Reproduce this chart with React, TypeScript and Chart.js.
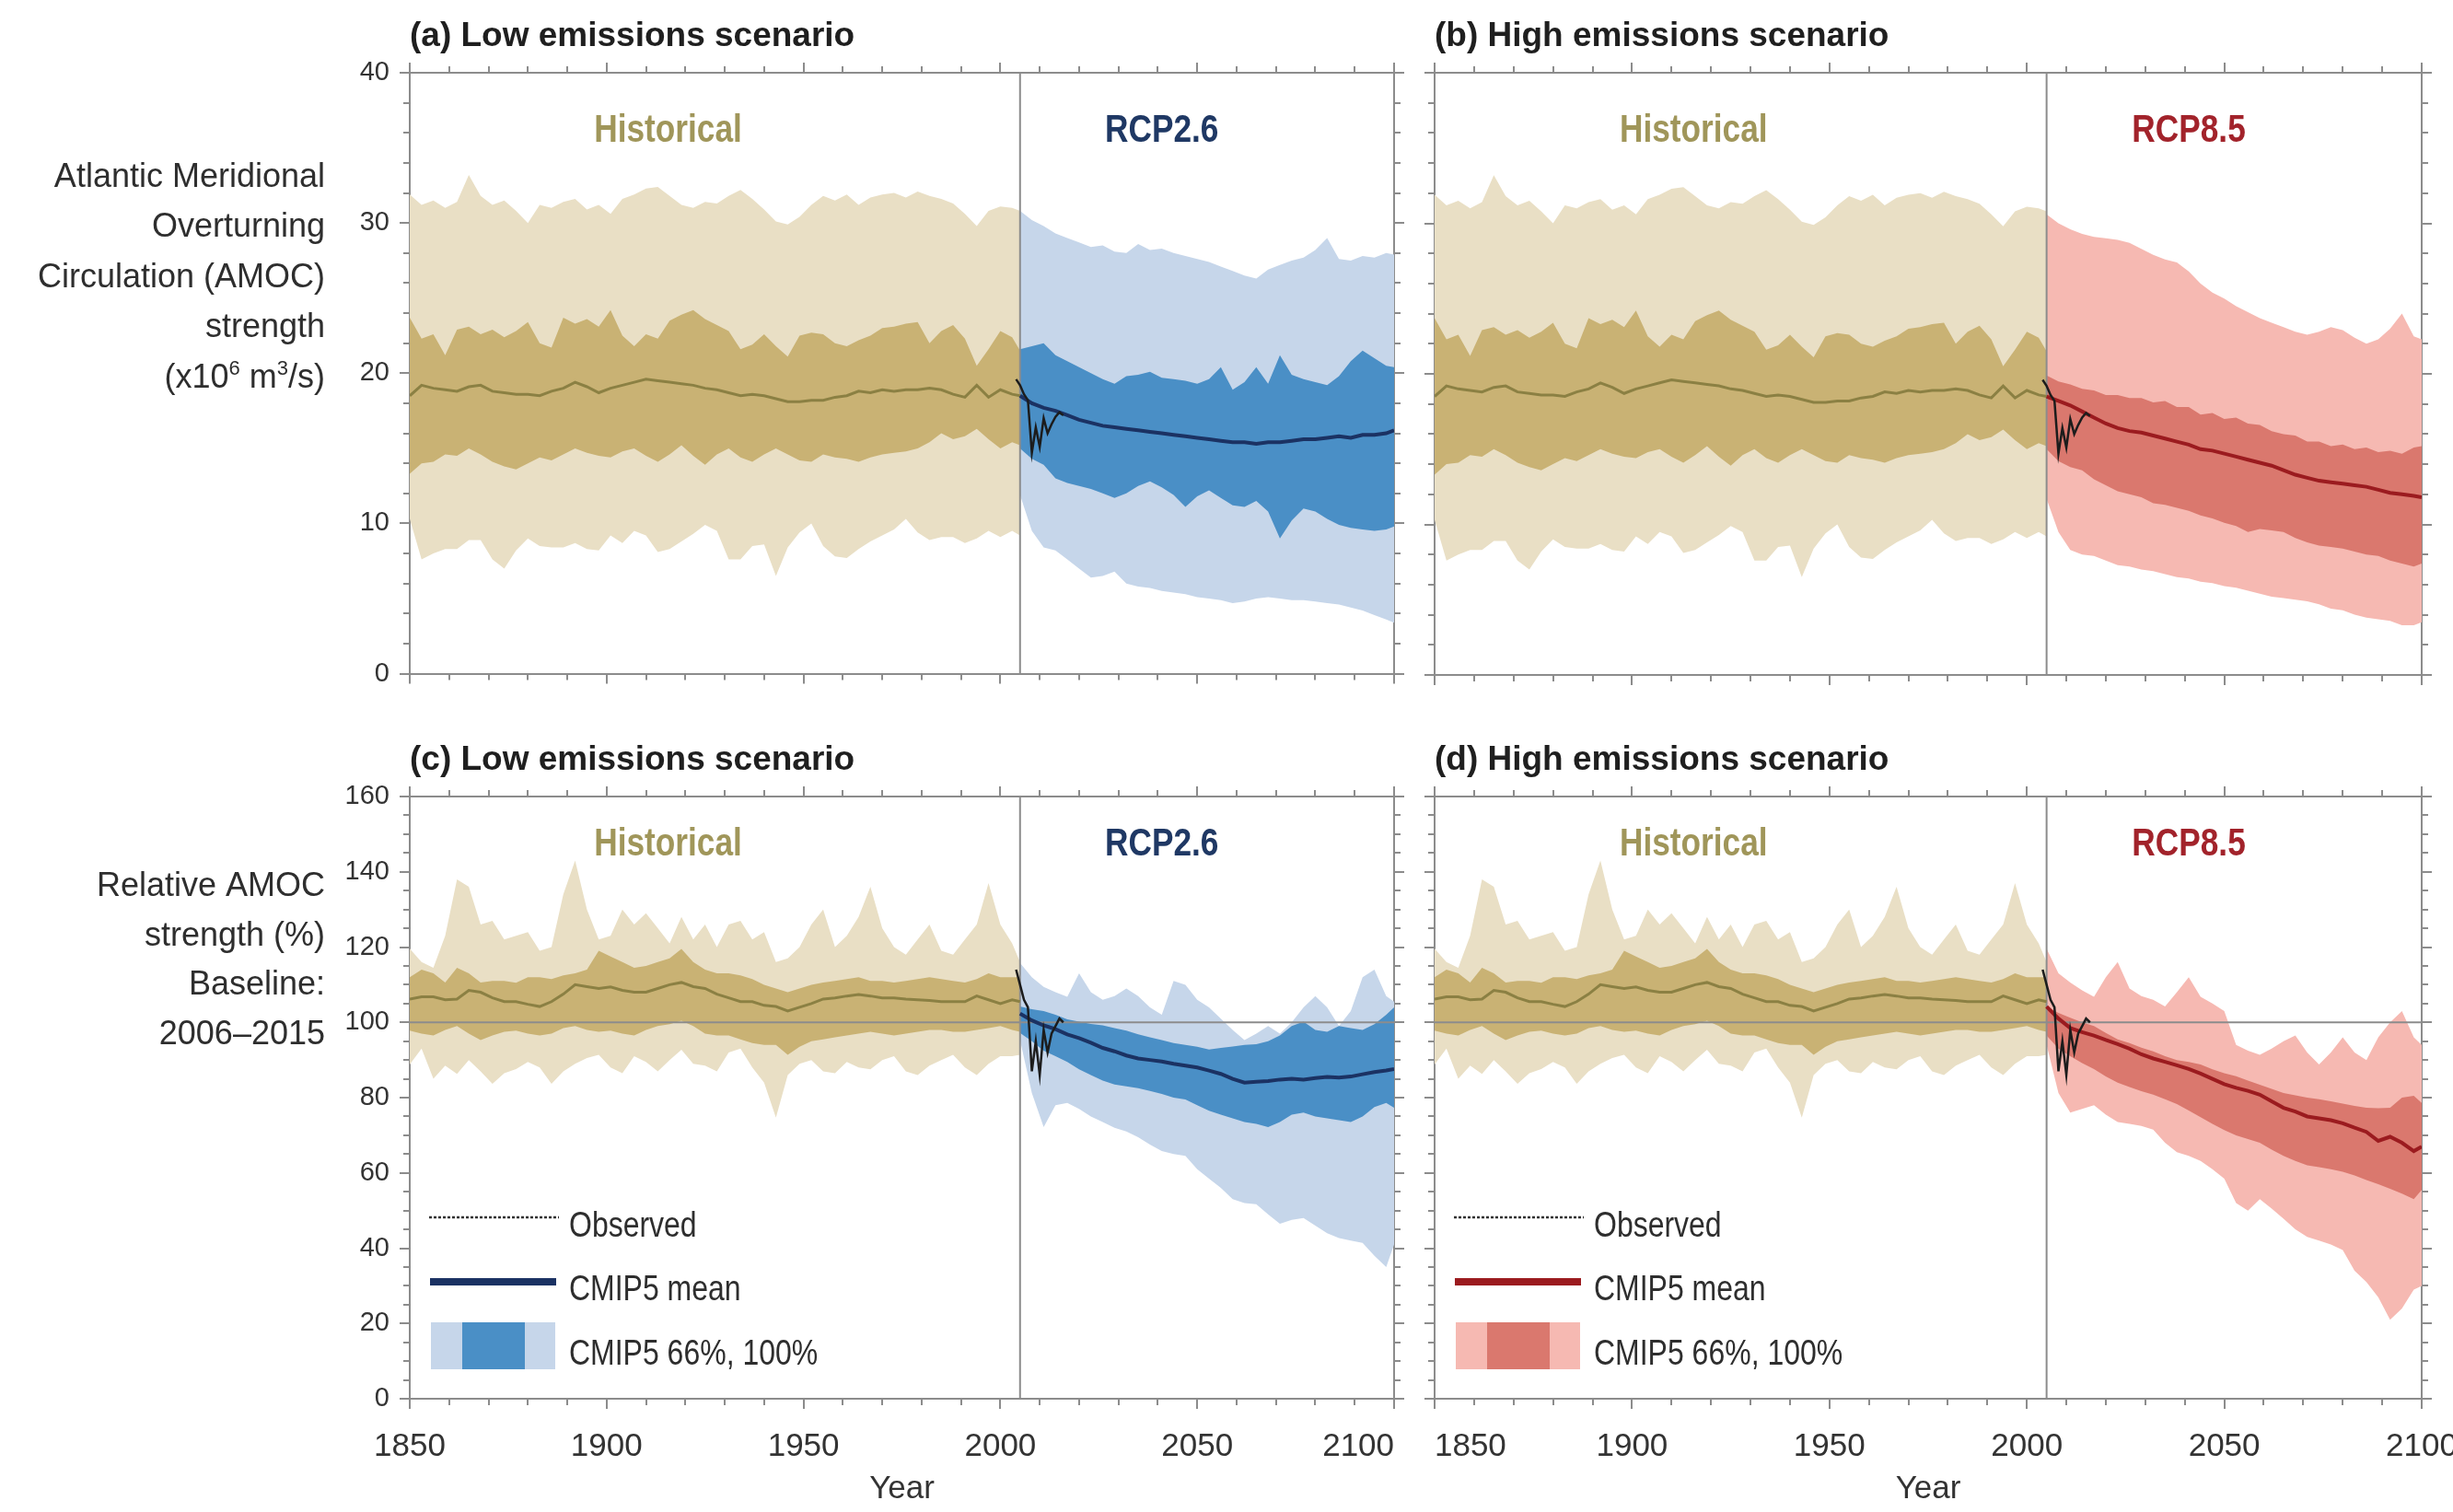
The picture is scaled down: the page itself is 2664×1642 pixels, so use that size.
import React, { useEffect, useRef } from 'react';
import { Chart, registerables } from 'chart.js';

Chart.register(...registerables);

// ---------------- DATA ----------------
const HIST_YEARS = [1850,1853,1856,1859,1862,1865,1868,1871,1874,1877,1880,1883,1886,1889,1892,1895,1898,1901,1904,1907,1910,1913,1916,1919,1922,1925,1928,1931,1934,1937,1940,1943,1946,1949,1952,1955,1958,1961,1964,1967,1970,1973,1976,1979,1982,1985,1988,1991,1994,1997,2000,2003,2005];
const SCEN_YEARS = [2005,2008,2011,2014,2017,2020,2023,2026,2029,2032,2035,2038,2041,2044,2047,2050,2053,2056,2059,2062,2065,2068,2071,2074,2077,2080,2083,2086,2089,2092,2095,2098,2100];
const OBS_YEARS = [2004,2005,2006,2007,2008,2009,2010,2011,2012,2013,2014,2015,2016];

// Absolute AMOC strength (Sv)
const HIST_ABS_MAX = [31.9,31.2,31.5,31.0,31.4,33.2,31.8,31.2,31.5,30.8,30.0,31.2,31.0,31.4,31.6,30.9,31.2,30.6,31.6,31.9,32.3,32.4,31.8,31.2,31.0,31.4,31.3,31.8,32.2,31.6,30.9,30.1,29.9,30.4,31.2,31.8,31.5,31.9,31.2,31.7,31.9,32.0,31.7,32.1,31.8,31.6,31.3,30.6,29.8,30.8,31.1,31.0,30.8];
const HIST_ABS_P83 = [23.7,22.3,22.6,21.2,22.9,23.1,22.6,22.9,22.4,22.8,23.4,22.0,21.7,23.7,23.3,23.6,23.1,24.2,22.5,21.8,22.6,22.3,23.5,23.9,24.2,23.6,23.2,22.8,21.6,21.9,22.6,21.8,21.1,22.5,22.7,22.6,22.0,21.8,22.2,22.5,23.0,23.1,23.3,23.4,22.0,22.8,23.2,22.3,20.5,21.6,22.8,22.4,21.5];
const HIST_ABS_MEAN = [18.5,19.2,19.0,18.9,18.8,19.1,19.2,18.8,18.7,18.6,18.6,18.5,18.8,19.0,19.4,19.1,18.7,19.0,19.2,19.4,19.6,19.5,19.4,19.3,19.2,19.0,18.9,18.7,18.5,18.6,18.5,18.3,18.1,18.1,18.2,18.2,18.4,18.5,18.8,18.7,18.9,18.8,18.9,18.9,19.0,18.9,18.6,18.4,19.2,18.4,18.9,18.6,18.5];
const HIST_ABS_P17 = [13.3,14.0,14.1,14.6,14.5,15.0,14.6,14.1,13.8,13.6,14.0,14.4,14.2,14.6,15.0,14.7,14.5,14.4,14.8,15.0,14.5,14.1,14.6,15.2,14.5,13.9,14.6,15.0,14.4,14.1,14.6,15.0,14.6,14.2,14.1,14.6,14.4,14.3,14.1,14.4,14.6,14.7,14.8,15.0,15.4,16.0,15.6,15.8,16.3,15.6,15.0,15.4,15.2];
const HIST_ABS_MIN = [10.3,7.6,8.0,8.3,8.3,8.9,8.9,7.6,7.0,8.2,9.0,8.5,8.4,8.4,8.7,8.3,8.2,9.2,8.7,9.5,9.2,8.1,8.3,8.8,9.3,9.9,9.5,7.6,7.6,8.5,8.6,6.5,8.4,9.4,10.0,8.5,7.8,7.7,8.3,8.8,9.2,9.6,10.3,9.4,8.9,9.1,9.1,8.7,9.0,9.5,9.1,9.5,9.2];

const RCP26_ABS_MAX = [30.8,30.2,29.8,29.3,29.0,28.7,28.4,28.5,28.1,28.0,28.6,28.2,28.3,28.0,27.8,27.6,27.4,27.1,26.8,26.5,26.3,26.9,27.2,27.5,27.7,28.2,29.0,27.6,27.5,27.8,27.7,28.0,27.9];
const RCP26_ABS_P83 = [21.6,21.8,22.0,21.2,20.8,20.4,20.0,19.6,19.3,19.8,19.9,20.1,19.7,19.6,19.5,19.3,19.6,20.4,18.9,19.4,20.4,19.3,21.2,19.9,19.6,19.4,19.2,19.8,20.8,21.5,21.0,20.5,20.4];
const RCP26_ABS_MEAN = [18.5,18.0,17.7,17.5,17.2,16.9,16.7,16.5,16.4,16.3,16.2,16.1,16.0,15.9,15.8,15.7,15.6,15.5,15.4,15.4,15.3,15.4,15.4,15.5,15.6,15.6,15.7,15.8,15.7,15.9,15.9,16.0,16.2];
const RCP26_ABS_P17 = [15.0,14.3,13.9,13.0,12.7,12.5,12.3,12.0,11.7,12.0,12.5,12.8,12.4,11.9,11.1,11.8,12.2,11.7,11.2,11.1,11.5,10.8,9.0,10.2,11.0,10.8,10.3,9.9,9.7,9.6,9.5,9.6,9.8];
const RCP26_ABS_MIN = [11.9,9.5,8.4,8.2,7.6,7.0,6.4,6.5,6.8,6.0,5.8,5.7,5.5,5.4,5.3,5.1,5.0,4.9,4.7,4.8,5.0,5.1,5.0,4.9,4.9,4.8,4.7,4.6,4.4,4.2,3.9,3.6,3.4];

const RCP85_ABS_MAX = [30.6,30.0,29.6,29.3,29.1,29.0,28.9,28.7,28.3,27.9,27.6,27.4,26.8,26.0,25.4,25.0,24.5,24.1,23.7,23.4,23.1,22.8,22.6,22.8,23.1,22.9,22.4,22.0,22.3,23.0,24.0,22.5,22.3];
const RCP85_ABS_P83 = [19.9,19.5,19.3,19.0,18.9,18.6,18.6,18.4,18.4,18.1,18.2,17.8,17.8,17.3,17.4,17.0,17.1,16.7,16.6,16.2,16.0,15.9,15.5,15.5,15.2,15.3,15.0,15.1,14.8,14.9,14.7,15.1,15.2];
const RCP85_ABS_MEAN = [18.5,18.2,17.9,17.5,17.1,16.7,16.4,16.2,16.1,15.9,15.7,15.5,15.3,15.0,14.9,14.7,14.5,14.3,14.1,13.9,13.6,13.3,13.1,12.9,12.8,12.7,12.6,12.5,12.3,12.1,12.0,11.9,11.8];
const RCP85_ABS_P17 = [15.0,14.2,13.8,13.6,13.0,12.6,12.2,12.0,11.8,11.4,11.3,11.1,10.9,10.6,10.4,10.1,9.9,9.5,9.7,9.6,9.5,9.1,8.8,8.6,8.5,8.4,8.2,8.0,7.9,7.6,7.4,7.2,7.4];
const RCP85_ABS_MIN = [11.7,9.5,8.3,8.0,7.9,7.6,7.3,7.2,7.0,6.9,6.7,6.5,6.4,6.2,6.1,5.9,5.8,5.6,5.4,5.2,5.1,5.0,4.9,4.7,4.4,4.3,4.0,3.8,3.7,3.6,3.3,3.3,3.5];

// Relative AMOC strength (%)
const HIST_REL_MAX = [119.6,116,114.5,123,138,136,126,127,122,123,124,119,120,134,143,130,122,123,130,126,129,125,121,128,122,126,120,126,127,122,124,116,117,120,126,130,120,123,128,136,125,120,118,122,126,119,118,122,126,137,126,121,116];
const HIST_REL_P83 = [112,114,113,110.6,114.5,113,110.6,111,111,110.5,112,112,111.5,112.5,113,114,119,117.5,116,114.5,115,116,117,119.5,116,114,113,113,112.5,111.5,110,109,108,109,110,110.6,111,111.5,112,111,111,110.6,111,111.5,112,111.5,111,110.6,111.5,113,112,112,112];
const HIST_REL_MEAN = [106.2,106.8,106.8,106.0,106.2,108.5,108.0,106.5,105.5,105.5,104.8,104.2,105.5,107.5,110.0,109.5,109.0,109.4,108.5,108.0,108.0,109.0,110.0,110.6,109.5,109.0,107.5,106.5,105.5,105.5,104.5,104.2,103.0,104.0,105.0,106.2,106.5,107.0,107.4,107.0,106.5,106.5,106.2,106.0,105.8,105.5,105.5,105.5,107.0,106.0,105.0,106.0,105.5];
const HIST_REL_P17 = [97.8,97,96.5,98,99,97,95.3,96.5,97.5,97.8,97,96.5,97,98.5,99,98,97.5,97.8,97,96.5,98,99,99.5,100.4,99,97,96.5,96.5,95.5,94.5,94,94,91.4,93.5,95,95.5,96,96.5,97,97.5,97,96.5,97,97.5,98,98,97.5,97.5,98,98.5,99,98,97.5];
const HIST_REL_MIN = [88.8,93,85,88.5,86.3,90,87,83.7,86.5,87.6,89.5,88,83.7,87,89,90.5,91.4,88,86.5,91,89.5,87,90,92.7,89,88.5,87,92,93,88,84,74.7,86,89,90,87,86.5,89.5,88,87.5,90,91,87,86,88.5,90,91.4,88,86,89,91,91,91.4];

const RCP26_REL_MAX = [115.8,112,109.4,108,106.8,113,108,106,107,109,107,104,102,111,110,106,104,101,98,95.3,97,99,97,100,104,107,104,99,103,112,114,107,105.5];
const RCP26_REL_P83 = [104.2,103.5,103,102,100.8,100.2,99.6,99.2,98.5,97.8,96.8,96,95.3,94.5,94,93.5,92.8,93.2,93.6,94,94.2,95,96.5,99,100.2,98,97.5,99,98.5,98,99.5,102,104];
const RCP26_REL_MEAN = [102.3,100.5,99.2,98.2,96.8,95.8,94.6,93.2,92.3,91.2,90.4,90.0,89.6,89.0,88.5,88.0,87.2,86.3,85.0,84.0,84.2,84.4,84.8,85.0,84.8,85.2,85.5,85.3,85.6,86.2,86.8,87.2,87.6];
const RCP26_REL_P17 = [97.2,95,92.5,91,89.5,87.5,86,84.5,83.5,83,82.5,81.8,81,80,79.5,78,76.5,75.5,74.5,73.5,73,72.2,73.5,75.5,76,75,74.5,74,73.5,75,77.5,78.6,77.3];
const RCP26_REL_MIN = [95.3,81.2,72.2,78,78.6,77,75,73.5,72,71,69.5,67.5,65.8,65,64.5,61,58.5,56,53,52,51.7,49,46.5,47.5,48,46,44,42.7,42,41.4,38,35,41];

const RCP85_REL_MAX = [119.6,113,110.6,108.5,106.8,112,116,109,107,106,104.2,108,112,106.8,105,103,94,92.5,91.4,93,95,96.5,92,88.8,92,96,92,90,96,100,103,96,94];
const RCP85_REL_P83 = [104.2,102.5,101.2,100,99,97.2,95.5,94.5,93.3,92.3,91,90,89.5,88.8,87.5,86.5,85.7,84.5,83.4,82.3,81.2,80.6,80,79.6,79,78.4,77.8,77.3,77.2,77.3,80,80.5,78.6];
const RCP85_REL_MEAN = [104.2,101,98.5,97.4,96.5,95.3,94.2,93,91.5,90.4,89.5,88.6,87.6,86.4,85,83.6,82.6,81.8,80.8,79,77.3,76.3,75,74.5,74,73.2,72,70.9,68.5,69.6,68,65.8,67];
const RCP85_REL_P17 = [96.5,93,91,89.2,87.6,85.6,84,82.8,81.7,80.8,79.6,78.3,76.6,74.8,73,71.4,70,69,68,66.2,64.5,63.2,62,61.5,61,60.3,59.3,58.1,57,55.8,54.5,53,55.5];
const RCP85_REL_MIN = [94,81.2,76,77,78,75.5,73.5,73,72.5,71.5,68,65.5,64.5,63.2,61,58.5,52,50,53,50.5,47.8,45,43,42,41,39.5,34,31,27,21,24,29,30];

const OBS_ABS = [19.6,19.2,18.6,18.2,14.7,16.4,15.1,17.0,16.0,16.6,17.1,17.4,17.2];
const OBS_REL = [114,110,106,104,87,95,86,98,92,97,99,101,100];

const X_TICKS = { min: 1850, max: 2100, major: 50, minor: 10 };
const SPLIT_YEAR = 2005;
const LABEL_YEARS = { hist: 1915.6, scen: 2041 };

// ---------------- STYLE ----------------
const AXIS = '#8c8c8c';
const TXT = '#2e2e2e';
const SANS = '"Liberation Sans", Arial, Helvetica, sans-serif';
const NARROW_SCALE = 0.82; // Arial-Narrow-like horizontal compression for drawn labels
const COL = {
  histLight: '#e9dfc5', histDark: '#c9b274', histMean: '#8b8043', histLabel: '#a0965a',
  lowLight: '#c6d6ea', lowDark: '#4a8fc6', lowMean: '#1b3263', lowLabel: '#1f3864',
  highLight: '#f6b9b2', highDark: '#da786e', highMean: '#9b1b1f', highLabel: '#a2232b',
};
const PAD = '\u00a0'.repeat(8);

type Band = { max: number[]; p83: number[]; mean: number[]; p17: number[]; min: number[] };
const HIST_ABS: Band = { max: HIST_ABS_MAX, p83: HIST_ABS_P83, mean: HIST_ABS_MEAN, p17: HIST_ABS_P17, min: HIST_ABS_MIN };
const HIST_REL: Band = { max: HIST_REL_MAX, p83: HIST_REL_P83, mean: HIST_REL_MEAN, p17: HIST_REL_P17, min: HIST_REL_MIN };
const RCP26_ABS: Band = { max: RCP26_ABS_MAX, p83: RCP26_ABS_P83, mean: RCP26_ABS_MEAN, p17: RCP26_ABS_P17, min: RCP26_ABS_MIN };
const RCP26_REL: Band = { max: RCP26_REL_MAX, p83: RCP26_REL_P83, mean: RCP26_REL_MEAN, p17: RCP26_REL_P17, min: RCP26_REL_MIN };
const RCP85_ABS: Band = { max: RCP85_ABS_MAX, p83: RCP85_ABS_P83, mean: RCP85_ABS_MEAN, p17: RCP85_ABS_P17, min: RCP85_ABS_MIN };
const RCP85_REL: Band = { max: RCP85_REL_MAX, p83: RCP85_REL_P83, mean: RCP85_REL_MEAN, p17: RCP85_REL_P17, min: RCP85_REL_MIN };

type Panel = {
  id: string; title: string;
  canvas: { left: number; top: number; width: number; height: number };
  area: { l: number; t: number; r: number; b: number };
  yMax: number; yMajor: number; yMinor: number;
  yLabels: boolean; xLabels: boolean; shiftLabel: 'last' | 'first' | null;
  yTitle: 'abs' | 'rel' | null;
  hist: Band; scen: Band; obs: number[];
  scenLabel: string; light: string; dark: string; mean: string; labelColor: string;
  baseline: boolean; legend: boolean; labelDy: number;
};

const PANELS: Panel[] = [
  { id: 'a', title: '(a) Low emissions scenario', canvas: { left: 0, top: 0, width: 1600, height: 760 }, area: { l: 445, t: 79, r: 1514, b: 733 },
    yMax: 40, yMajor: 10, yMinor: 2, yLabels: true, xLabels: false, shiftLabel: null, yTitle: 'abs', hist: HIST_ABS, scen: RCP26_ABS, obs: OBS_ABS,
    scenLabel: 'RCP2.6', light: COL.lowLight, dark: COL.lowDark, mean: COL.lowMean, labelColor: COL.lowLabel, baseline: false, legend: false, labelDy: 75 },
  { id: 'b', title: '(b) High emissions scenario', canvas: { left: 1480, top: 0, width: 1250, height: 760 }, area: { l: 1558, t: 79, r: 2630, b: 733 },
    yMax: 40, yMajor: 10, yMinor: 2, yLabels: false, xLabels: false, shiftLabel: null, yTitle: null, hist: HIST_ABS, scen: RCP85_ABS, obs: OBS_ABS,
    scenLabel: 'RCP8.5', light: COL.highLight, dark: COL.highDark, mean: COL.highMean, labelColor: COL.highLabel, baseline: false, legend: false, labelDy: 75 },
  { id: 'c', title: '(c) Low emissions scenario', canvas: { left: 0, top: 770, width: 1660, height: 872 }, area: { l: 445, t: 865, r: 1514, b: 1519 },
    yMax: 160, yMajor: 20, yMinor: 5, yLabels: true, xLabels: true, shiftLabel: 'last', yTitle: 'rel', hist: HIST_REL, scen: RCP26_REL, obs: OBS_REL,
    scenLabel: 'RCP2.6', light: COL.lowLight, dark: COL.lowDark, mean: COL.lowMean, labelColor: COL.lowLabel, baseline: true, legend: true, labelDy: 64 },
  { id: 'd', title: '(d) High emissions scenario', canvas: { left: 1400, top: 770, width: 1330, height: 872 }, area: { l: 1558, t: 865, r: 2630, b: 1519 },
    yMax: 160, yMajor: 20, yMinor: 5, yLabels: false, xLabels: true, shiftLabel: 'first', yTitle: null, hist: HIST_REL, scen: RCP85_REL, obs: OBS_REL,
    scenLabel: 'RCP8.5', light: COL.highLight, dark: COL.highDark, mean: COL.highMean, labelColor: COL.highLabel, baseline: true, legend: true, labelDy: 64 },
];

const pts = (xs: number[], ys: number[]) => xs.map((x, i) => ({ x, y: ys[i] }));

function lineDs(data: any[], color: string, width: number) {
  return { data, borderColor: color, borderWidth: width, pointRadius: 0, fill: false, tension: 0, xAxisID: 'x', yAxisID: 'y' };
}
function bandTop(data: any[], color: string) {
  return { data, borderColor: 'rgba(0,0,0,0)', borderWidth: 0, backgroundColor: color, pointRadius: 0, fill: '+1', tension: 0, xAxisID: 'x', yAxisID: 'y' };
}
function bandBottom(data: any[]) {
  return { data, borderColor: 'rgba(0,0,0,0)', borderWidth: 0, pointRadius: 0, fill: false, tension: 0, xAxisID: 'x', yAxisID: 'y' };
}

function narrowText(ctx: CanvasRenderingContext2D, text: string, x: number, y: number, align: CanvasTextAlign, font: string, color: string) {
  ctx.save();
  ctx.font = font;
  ctx.fillStyle = color;
  ctx.textAlign = align;
  ctx.textBaseline = 'alphabetic';
  ctx.translate(x, y);
  ctx.scale(NARROW_SCALE, 1);
  ctx.fillText(text, 0, 0);
  ctx.restore();
}

function drawYTitle(ctx: CanvasRenderingContext2D, kind: 'abs' | 'rel', right: number, top: number) {
  ctx.font = `36px ${SANS}`;
  ctx.fillStyle = TXT;
  ctx.textAlign = 'right';
  ctx.textBaseline = 'alphabetic';
  if (kind === 'abs') {
    const lines = ['Atlantic Meridional', 'Overturning', 'Circulation (AMOC)', 'strength'];
    const step = 54.4;
    const y0 = top + 124;
    lines.forEach((s, i) => ctx.fillText(s, right, y0 + i * step));
    const y = y0 + 4 * step;
    const parts: [string, boolean][] = [['(x10', false], ['6', true], [' m', false], ['3', true], ['/s)', false]];
    const norm = `36px ${SANS}`;
    const sup = `22px ${SANS}`;
    let total = 0;
    parts.forEach(([t, s]) => { ctx.font = s ? sup : norm; total += ctx.measureText(t).width; });
    let x = right - total;
    ctx.textAlign = 'left';
    parts.forEach(([t, s]) => {
      ctx.font = s ? sup : norm;
      ctx.fillText(t, x, s ? y - 14 : y);
      x += ctx.measureText(t).width;
    });
  } else {
    const lines = ['Relative AMOC', 'strength (%)', 'Baseline:', '2006\u20132015'];
    const step = 53.5;
    lines.forEach((s, i) => ctx.fillText(s, right, top + 108 + i * step));
  }
}

function buildConfig(p: Panel) {
  const leftW = p.area.l - p.canvas.left;
  const rightW = p.canvas.left + p.canvas.width - p.area.r;
  const topH = p.area.t - p.canvas.top;
  const botH = p.canvas.top + p.canvas.height - p.area.b;

  const grid = (len: number) => ({ display: true, drawOnChartArea: false, drawTicks: true, tickLength: len, color: AXIS, lineWidth: 2 });
  const numCb = (v: any) => String(v);
  const xCb = (v: any) => {
    if (p.shiftLabel === 'last' && v === X_TICKS.max) return String(v) + PAD;
    if (p.shiftLabel === 'first' && v === X_TICKS.min) return PAD + String(v);
    return String(v);
  };
  const xBase = { type: 'linear', min: X_TICKS.min, max: X_TICKS.max };
  const yBase = { type: 'linear', min: 0, max: p.yMax };

  const scales: any = {
    xMinB: { ...xBase, position: 'bottom', weight: 0, ticks: { display: false, stepSize: X_TICKS.minor }, grid: grid(7), border: { display: false }, afterFit: (s: any) => { s.height = 0; } },
    xMinT: { ...xBase, position: 'top', weight: 0, ticks: { display: false, stepSize: X_TICKS.minor }, grid: grid(7), border: { display: false }, afterFit: (s: any) => { s.height = 0; } },
    yMinL: { ...yBase, position: 'left', weight: 0, ticks: { display: false, stepSize: p.yMinor }, grid: grid(7), border: { display: false }, afterFit: (s: any) => { s.width = 0; } },
    yMinR: { ...yBase, position: 'right', weight: 0, ticks: { display: false, stepSize: p.yMinor }, grid: grid(7), border: { display: false }, afterFit: (s: any) => { s.width = 0; } },
    x: {
      ...xBase, position: 'bottom', weight: 1,
      ticks: { display: p.xLabels, stepSize: X_TICKS.major, padding: 20, color: '#333', font: { family: SANS, size: 35 }, callback: xCb, maxRotation: 0, autoSkip: false },
      grid: grid(11), border: { display: true, color: AXIS, width: 2 },
      title: { display: p.xLabels, text: 'Year', color: '#333', font: { family: SANS, size: 35 }, padding: { top: 0, bottom: 4 } },
      afterFit: (s: any) => { s.height = botH; },
    },
    xT: { ...xBase, position: 'top', weight: 1, ticks: { display: false, stepSize: X_TICKS.major }, grid: grid(11), border: { display: true, color: AXIS, width: 2 }, afterFit: (s: any) => { s.height = topH; } },
    y: {
      ...yBase, position: 'left', weight: 1,
      ticks: { display: p.yLabels, stepSize: p.yMajor, padding: 11, color: '#333', font: { family: SANS, size: 29 }, callback: numCb },
      grid: grid(11), border: { display: true, color: AXIS, width: 2 },
      afterFit: (s: any) => { s.width = leftW; },
    },
    yR: { ...yBase, position: 'right', weight: 1, ticks: { display: false, stepSize: p.yMajor }, grid: grid(11), border: { display: true, color: AXIS, width: 2 }, afterFit: (s: any) => { s.width = rightW; } },
  };

  const datasets: any[] = [];
  datasets.push(lineDs(pts(OBS_YEARS, p.obs), '#1c1c1c', 2.5));
  datasets.push(lineDs(pts(SCEN_YEARS, p.scen.mean), p.mean, 4));
  datasets.push(lineDs(pts(HIST_YEARS, p.hist.mean), COL.histMean, 3));
  datasets.push(lineDs([{ x: SPLIT_YEAR, y: 0 }, { x: SPLIT_YEAR, y: p.yMax }], AXIS, 2));
  if (p.baseline) datasets.push(lineDs([{ x: X_TICKS.min, y: 100 }, { x: X_TICKS.max, y: 100 }], AXIS, 2));
  datasets.push(bandTop(pts(SCEN_YEARS, p.scen.p83), p.dark));
  datasets.push(bandBottom(pts(SCEN_YEARS, p.scen.p17)));
  datasets.push(bandTop(pts(HIST_YEARS, p.hist.p83), COL.histDark));
  datasets.push(bandBottom(pts(HIST_YEARS, p.hist.p17)));
  datasets.push(bandTop(pts(SCEN_YEARS, p.scen.max), p.light));
  datasets.push(bandBottom(pts(SCEN_YEARS, p.scen.min)));
  datasets.push(bandTop(pts(HIST_YEARS, p.hist.max), COL.histLight));
  datasets.push(bandBottom(pts(HIST_YEARS, p.hist.min)));

  const textPlugin = {
    id: 'panelText' + p.id,
    afterDraw(chart: any) {
      const { ctx, chartArea: ca } = chart;
      const xs = chart.scales.x;
      ctx.save();
      ctx.textBaseline = 'alphabetic';
      // panel title
      ctx.font = `bold 37px ${SANS}`;
      ctx.fillStyle = '#1f1f1f';
      ctx.textAlign = 'left';
      ctx.fillText(p.title, ca.left, ca.top - 29);
      // period labels
      const lf = `bold 43px ${SANS}`;
      narrowText(ctx, 'Historical', xs.getPixelForValue(LABEL_YEARS.hist), ca.top + p.labelDy, 'center', lf, COL.histLabel);
      narrowText(ctx, p.scenLabel, xs.getPixelForValue(LABEL_YEARS.scen), ca.top + p.labelDy, 'center', lf, p.labelColor);
      // y-axis title
      if (p.yTitle) drawYTitle(ctx, p.yTitle, ca.left - 92, ca.top);
      // legend
      if (p.legend) {
        const L = ca.left, B = ca.bottom;
        ctx.save();
        ctx.strokeStyle = '#333';
        ctx.lineWidth = 2.5;
        ctx.setLineDash([3, 2]);
        ctx.beginPath(); ctx.moveTo(L + 21, B - 197); ctx.lineTo(L + 162, B - 197); ctx.stroke();
        ctx.restore();
        ctx.strokeStyle = p.mean;
        ctx.lineWidth = 8;
        ctx.beginPath(); ctx.moveTo(L + 22, B - 127); ctx.lineTo(L + 159, B - 127); ctx.stroke();
        ctx.fillStyle = p.light; ctx.fillRect(L + 23, B - 83, 135, 51);
        ctx.fillStyle = p.dark; ctx.fillRect(L + 57, B - 83, 68, 51);
        const tf = `39px ${SANS}`;
        narrowText(ctx, 'Observed', L + 173, B - 176, 'left', tf, TXT);
        narrowText(ctx, 'CMIP5 mean', L + 173, B - 107, 'left', tf, TXT);
        narrowText(ctx, 'CMIP5 66%, 100%', L + 173, B - 37, 'left', tf, TXT);
      }
      ctx.restore();
    },
  };

  return {
    type: 'line',
    data: { datasets },
    options: {
      responsive: false,
      animation: false,
      devicePixelRatio: 1,
      events: [],
      layout: { padding: 0 },
      plugins: { legend: { display: false }, tooltip: { enabled: false } },
      scales,
    },
    plugins: [textPlugin],
  } as any;
}

function PanelChart({ p }: { p: Panel }) {
  const ref = useRef<HTMLCanvasElement>(null);
  useEffect(() => {
    const chart = new Chart(ref.current as HTMLCanvasElement, buildConfig(p));
    return () => chart.destroy();
  }, [p]);
  return (
    <canvas
      ref={ref}
      width={p.canvas.width}
      height={p.canvas.height}
      style={{ position: 'absolute', left: p.canvas.left, top: p.canvas.top, width: p.canvas.width, height: p.canvas.height }}
    />
  );
}

export default function App() {
  return (
    <div style={{ position: 'absolute', left: 0, top: 0, width: 2664, height: 1642, overflow: 'hidden', background: '#ffffff' }}>
      {PANELS.map((p) => <PanelChart key={p.id} p={p} />)}
    </div>
  );
}
